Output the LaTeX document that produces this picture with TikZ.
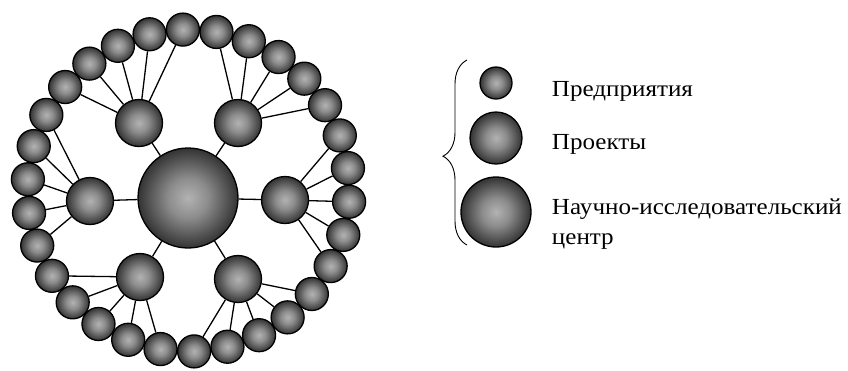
\documentclass[tikz,border=0pt]{standalone}
\usepackage{fontspec}
\setmainfont{Liberation Serif}[FakeStretch=1.09]
\usetikzlibrary{decorations.pathreplacing}
\pgfdeclareradialshading{ballshade}{\pgfpoint{0bp}{0bp}}{%
  color(0bp)=(black!30); color(10bp)=(black!45); color(25bp)=(black!80); color(50bp)=(black!80)}

\begin{document}
\begin{tikzpicture}[x=1pt, y=-1pt, line width=1.3pt,
    ball/.style = {circle, draw, inner sep=0pt, shading=ballshade},
    firm/.style = {ball, minimum size = 33pt},
    project/.style = {ball, minimum size = 47pt},
    centre/.style = {ball, minimum size = 100pt},
    caption/.style = {anchor=base west, font=\fontsize{23}{29.4}\selectfont}]

\useasboundingbox (0,0) rectangle (848,370);

% Research centre
\node[centre] (C) at (188,198) {};

% Projects
\node[project] (pUL) at (139,123) {};
\node[project] (pUR) at (238,123) {};
\node[project] (pL) at (90,201) {};
\node[project] (pR) at (285,200) {};
\node[project] (pLL) at (140,277) {};
\node[project] (pLR) at (238,279) {};

% Firms on the ring
\foreach \k in {0,...,29}
  \node[firm] (f\k) at ({188.5+161*cos(92-12*\k)}, {190.5-161*sin(92-12*\k)}) {};

% Links
\foreach \p in {pUL,pUR,pL,pR,pLL,pLR}
  \draw (C) -- (\p);
\foreach \p/\fs in {pUL/{26,27,28,29,0}, pUR/{1,2,3,4,5}, pR/{6,7,8,9,10},
    pLR/{11,12,13,14,15}, pLL/{16,17,18,19,20}, pL/{21,22,23,24,25}}
  \foreach \f in \fs
    \draw (\p) -- (f\f);

% Legend
\node[firm, minimum size=32pt] (lFirm) at (496,83) {};
\node[project, minimum size=52pt] (lProject) at (496,138) {};
\node[centre, minimum size=70pt] (lCentre) at (496,212) {};
\node[caption] (tFirm) at (548,96.7) {Предприятия};
\node[caption] (tProject) at (548,149.3) {Проекты};
\node[caption, align=left, anchor=north west] (tCentre) at (548,195) {Научно-исследовательский\\центр};

% Brace
\coordinate (bTop) at (467,60);
\coordinate (bBot) at (467,245);
\draw[line width=0.9pt, decorate, decoration={brace, amplitude=24pt, aspect=0.48}] (bBot) -- (bTop);

\end{tikzpicture}
\end{document}
